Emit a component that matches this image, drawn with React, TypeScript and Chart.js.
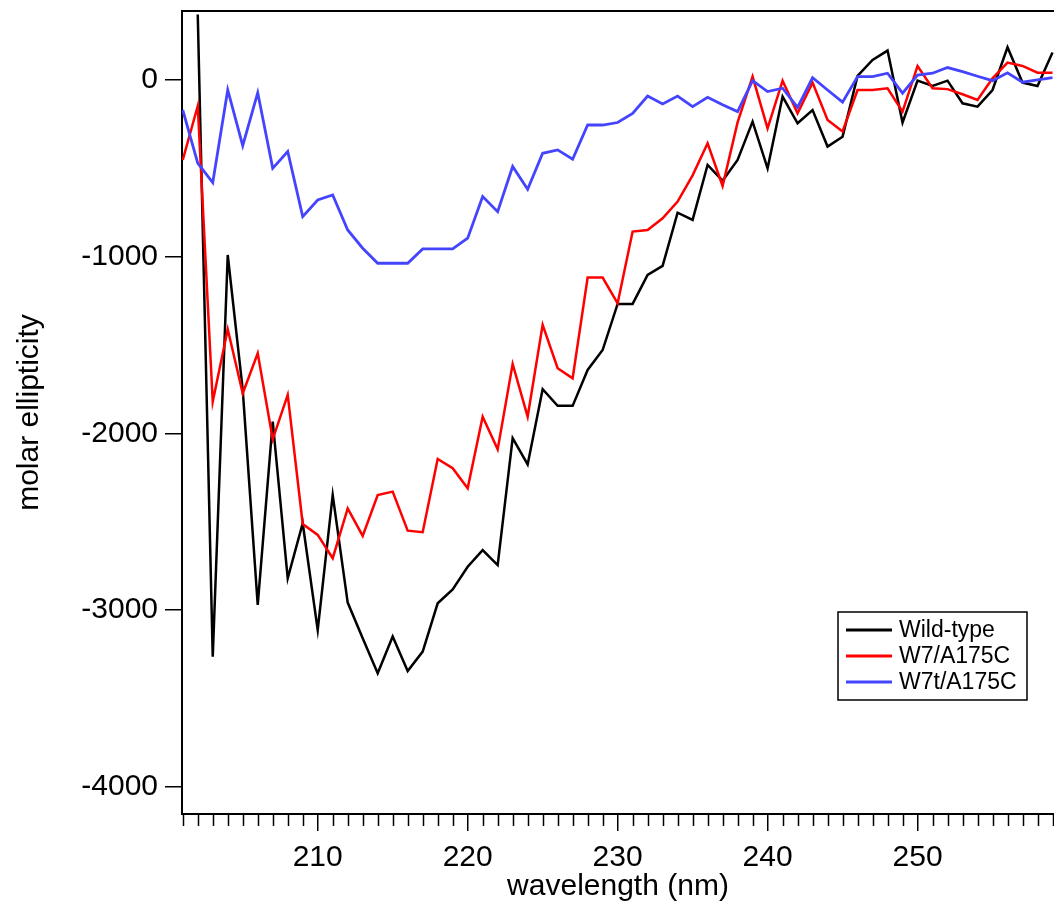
import React, { useEffect, useRef } from "react";
import { Chart, registerables } from "chart.js";

Chart.register(...registerables);

const wavelengths: number[] = [
  201, 202, 203, 204, 205, 206, 207, 208, 209, 210,
  211, 212, 213, 214, 215, 216, 217, 218, 219, 220,
  221, 222, 223, 224, 225, 226, 227, 228, 229, 230,
  231, 232, 233, 234, 235, 236, 237, 238, 239, 240,
  241, 242, 243, 244, 245, 246, 247, 248, 249, 250,
  251, 252, 253, 254, 255, 256, 257, 258, 259,
];

const wildType: (number | null)[] = [
  null, 370, -3263, -990, -1754, -2970, -1933, -2820, -2508, -3112,
  -2348, -2957, -3159, -3357, -3149, -3344, -3234, -2961, -2882, -2754,
  -2660, -2745, -2027, -2175, -1750, -1844, -1844, -1641, -1528, -1267,
  -1267, -1103, -1052, -751, -792, -481, -570, -453, -236, -500,
  -94, -245, -170, -377, -321, 23, 113, 166, -241, -4,
  -34, -4, -132, -151, -57, 185, -15, -34, 155,
];

const w7A175C: number[] = [
  -453, -147, -1820, -1411, -1773, -1546, -2033, -1782, -2512, -2574,
  -2706, -2424, -2580, -2348, -2329, -2550, -2559, -2144, -2197, -2310,
  -1905, -2090, -1607, -1905, -1386, -1631, -1688, -1118, -1118, -1264,
  -858, -849, -783, -688, -540, -358, -600, -240, 19, -274,
  -4, -189, -15, -226, -292, -57, -57, -47, -179, 79,
  -47, -52, -81, -113, 9, 98, 79, 41, 41,
];

const w7tA175C: number[] = [
  -170, -470, -581, -57, -372, -72, -500, -405, -773, -679,
  -651, -849, -952, -1037, -1037, -1037, -956, -956, -956, -895,
  -660, -745, -490, -619, -415, -396, -449, -255, -255, -241,
  -189, -91, -136, -91, -151, -98, -140, -179, -4, -66,
  -47, -155, 13, -57, -126, 19, 19, 38, -75, 28,
  38, 70, 47, 21, -4, 40, -13, 0, 13,
];

const seriesLabels: string[] = ["Wild-type", "W7/A175C", "W7t/A175C"];
const seriesColors: string[] = ["#000000", "#ff0000", "#4444ff"];
const xTickValues: number[] = [210, 220, 230, 240, 250];
const yTickValues: number[] = [-4000, -3000, -2000, -1000, 0];
const xTitle = "wavelength (nm)";
const yTitle = "molar ellipticity";

const FONT = "'Liberation Sans', Arial, Helvetica, sans-serif";

const decorPlugin = {
  id: "decor",
  afterDraw(chart: any) {
    const ctx = chart.ctx;
    const area = chart.chartArea;
    const xs = chart.scales.x;
    ctx.save();
    // top frame line
    ctx.strokeStyle = "#000";
    ctx.lineWidth = 2;
    ctx.beginPath();
    ctx.moveTo(area.left, area.top);
    ctx.lineTo(area.right, area.top);
    ctx.stroke();
    // minor ticks
    ctx.lineWidth = 1.5;
    for (let n = Math.ceil(xs.min); n <= Math.floor(xs.max); n++) {
      if (n % 10 === 0) continue;
      const px = Math.round(xs.getPixelForValue(n)) + 0.5;
      ctx.beginPath();
      ctx.moveTo(px, area.bottom);
      ctx.lineTo(px, area.bottom + 12);
      ctx.stroke();
    }
    // legend
    const bx = 838, by = 612, bw = 189, bh = 88;
    ctx.fillStyle = "#fff";
    ctx.fillRect(bx, by, bw, bh);
    ctx.strokeStyle = "#000";
    ctx.lineWidth = 1.5;
    ctx.strokeRect(bx, by, bw, bh);
    ctx.font = `23px ${FONT}`;
    ctx.textBaseline = "middle";
    ctx.textAlign = "left";
    chart.data.datasets.forEach((ds: any, i: number) => {
      const ry = by + 18 + i * 26;
      ctx.strokeStyle = ds.borderColor;
      ctx.lineWidth = 3;
      ctx.beginPath();
      ctx.moveTo(bx + 8, ry);
      ctx.lineTo(bx + 54, ry);
      ctx.stroke();
      ctx.fillStyle = "#000";
      ctx.fillText(ds.label, bx + 61, ry + 1);
    });
    ctx.restore();
  },
};

export default function App() {
  const ref = useRef<HTMLCanvasElement>(null);
  useEffect(() => {
    if (!ref.current) return;
    const series = [wildType, w7A175C, w7tA175C];
    const chart = new Chart(ref.current, {
      type: "line",
      data: {
        datasets: series.map((vals, i) => ({
          label: seriesLabels[i],
          data: wavelengths.map((w, j) => ({ x: w, y: vals[j] as any })),
          borderColor: seriesColors[i],
          backgroundColor: seriesColors[i],
          borderWidth: i === 2 ? 2.8 : 2.5,
          pointRadius: 0,
          tension: 0,
          fill: false,
          order: 3 - i,
        })),
      },
      options: {
        animation: false,
        responsive: false,
        maintainAspectRatio: false,
        layout: { padding: { top: 11, right: 0, left: 0, bottom: 0 } },
        plugins: {
          legend: { display: false },
          tooltip: { enabled: false },
          title: { display: false },
        },
        scales: {
          x: {
            type: "linear",
            position: "bottom",
            min: 200.95,
            max: 259.1,
            afterBuildTicks: (s: any) => {
              s.ticks = xTickValues.map((v) => ({ value: v }));
            },
            afterFit: (s: any) => {
              s.height = 91;
              s.paddingLeft = 0;
              s.paddingRight = 0;
            },
            grid: {
              drawOnChartArea: false,
              drawTicks: true,
              tickLength: 17,
              color: "#000",
              lineWidth: 1.5,
            },
            border: { display: true, color: "#000", width: 2 },
            ticks: {
              color: "#000",
              font: { size: 30, family: FONT },
              padding: 9,
              maxRotation: 0,
              autoSkip: false,
              callback: (v: any) => String(v),
            },
            title: {
              display: true,
              text: xTitle,
              color: "#000",
              font: { size: 30, family: FONT },
              padding: { top: 0, bottom: 0 },
            },
          },
          y: {
            type: "linear",
            position: "left",
            min: -4153,
            max: 390,
            afterBuildTicks: (s: any) => {
              s.ticks = yTickValues.map((v) => ({ value: v }));
            },
            afterFit: (s: any) => {
              s.width = 182;
              s.paddingTop = 0;
              s.paddingBottom = 0;
            },
            grid: {
              drawOnChartArea: false,
              drawTicks: true,
              tickLength: 17,
              color: "#000",
              lineWidth: 1.5,
            },
            border: { display: true, color: "#000", width: 2 },
            ticks: {
              color: "#000",
              font: { size: 30, family: FONT },
              padding: 7,
              autoSkip: false,
              callback: (v: any) => String(v),
            },
            title: {
              display: true,
              text: yTitle,
              color: "#000",
              font: { size: 30, family: FONT },
              padding: { top: 12, bottom: 0 },
            },
          },
        },
      },
      plugins: [decorPlugin],
    });
    return () => chart.destroy();
  }, []);
  return (
    <div style={{ position: "fixed", left: 0, top: 0, width: 1054, height: 905, background: "#fff" }}>
      <canvas ref={ref} width={1054} height={905} style={{ width: 1054, height: 905 }} />
    </div>
  );
}
